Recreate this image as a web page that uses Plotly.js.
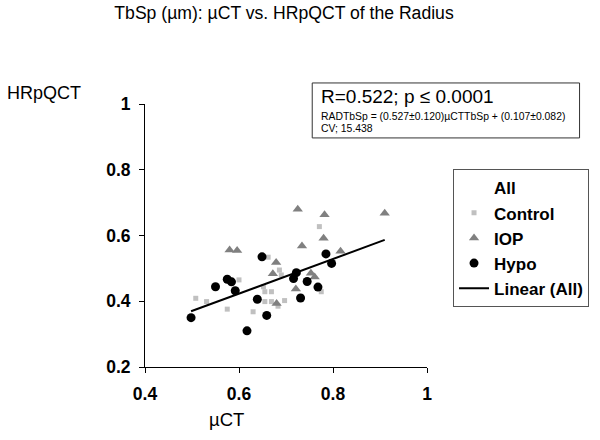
<!DOCTYPE html>
<html>
<head>
<meta charset="utf-8">
<script src="https://cdn.plot.ly/plotly-3.0.1.min.js"></script>
<style>
  body { margin: 0; background: #fff; }
  #chart { width: 600px; height: 440px; }
</style>
</head>
<body>
<div id="chart"></div>
<script>
// uCT (x) vs HRpQCT (y) trabecular separation
var controlX = [0.508, 0.531, 0.575, 0.600, 0.630, 0.662, 0.686, 0.690, 0.652, 0.655, 0.669, 0.655, 0.669, 0.697, 0.683, 0.771, 0.775];
var controlY = [0.409, 0.399, 0.376, 0.465, 0.368, 0.534, 0.495, 0.480, 0.444, 0.429, 0.429, 0.399, 0.399, 0.402, 0.385, 0.627, 0.429];

var iopX = [0.580, 0.596, 0.679, 0.672, 0.725, 0.734, 0.782, 0.780, 0.753, 0.761, 0.721, 0.680, 0.816, 0.910];
var iopY = [0.556, 0.554, 0.518, 0.484, 0.680, 0.568, 0.663, 0.592, 0.485, 0.474, 0.437, 0.393, 0.552, 0.668];

var hypoX = [0.498, 0.550, 0.575, 0.584, 0.592, 0.617, 0.639, 0.649, 0.659, 0.716, 0.722, 0.731, 0.745, 0.768, 0.785, 0.797];
var hypoY = [0.350, 0.444, 0.467, 0.459, 0.432, 0.310, 0.406, 0.535, 0.357, 0.469, 0.487, 0.410, 0.460, 0.443, 0.544, 0.515];

// regression reported in the figure
var fitSlope = 0.527;
var fitIntercept = 0.107;

var allX = controlX.concat(iopX, hypoX);
var xMin = Math.min.apply(null, allX);
var xMax = Math.max.apply(null, allX);
var fitX = [xMin, xMax];
var fitY = fitX.map(function (x) { return fitSlope * x + fitIntercept; });

var FONT = "Liberation Sans, Arial, sans-serif";

var traceAll = {
  x: [null], y: [null],
  mode: "markers",
  marker: { color: "rgba(0,0,0,0)", size: 6 },
  name: "All", legendgroup: "a"
};
var traceControl = {
  x: controlX, y: controlY,
  mode: "markers",
  marker: { symbol: "square", color: "#c0c0c0", size: 5 },
  name: "Control", legendgroup: "b"
};
var traceIop = {
  x: iopX, y: iopY,
  mode: "markers",
  marker: { symbol: "triangle-up", color: "#808080", size: 9 },
  name: "IOP", legendgroup: "c"
};
var traceHypo = {
  x: hypoX, y: hypoY,
  mode: "markers",
  marker: { symbol: "circle", color: "#000", size: 9 },
  name: "Hypo", legendgroup: "d"
};
var traceFit = {
  x: fitX, y: fitY,
  mode: "lines",
  line: { color: "#000", width: 2 },
  name: "Linear (All)", legendgroup: "e"
};

var layout = {
  width: 600, height: 440,
  margin: { l: 145, r: 172, t: 104, b: 73 },
  paper_bgcolor: "#fff", plot_bgcolor: "#fff",
  font: { family: FONT, color: "#000" },
  title: {
    text: "TbSp (µm): µCT vs. HRpQCT of the Radius",
    font: { size: 17.6 },
    x: 0.493, xref: "paper", y: 0.97, yanchor: "middle"
  },
  showlegend: true,
  legend: {
    x: 1.569, xanchor: "right", y: 0.752, yanchor: "top",
    bordercolor: "#555", borderwidth: 1,
    font: { size: 17, family: FONT, weight: "bold" },
    traceorder: "grouped", tracegroupgap: 0
  },
  xaxis: {
    range: [0.4, 1], tickvals: [0.4, 0.6, 0.8, 1], ticktext: ["0.4", "0.6", "0.8", "1"],
    showgrid: false, zeroline: false,
    showline: true, linecolor: "#000", linewidth: 1,
    ticks: "outside", ticklen: 5, tickcolor: "#000", ticklabelstandoff: 6,
    tickfont: { size: 17.5, weight: "bold" }
  },
  yaxis: {
    range: [0.2, 1], tickvals: [0.2, 0.4, 0.6, 0.8, 1], ticktext: ["0.2", "0.4", "0.6", "0.8", "1"],
    showgrid: false, zeroline: false,
    showline: true, linecolor: "#000", linewidth: 1,
    ticks: "outside", ticklen: 5, tickcolor: "#000", ticklabelstandoff: 5,
    tickfont: { size: 17.5, weight: "bold" }
  },
  // inside ticks on top of the outside ones, so they cross the axis
  xaxis2: {
    overlaying: "x", anchor: "y", side: "bottom", range: [0.4, 1],
    tickvals: [0.4, 0.6, 0.8, 1], showticklabels: false,
    showgrid: false, zeroline: false, showline: false,
    ticks: "inside", ticklen: 5, tickcolor: "#000"
  },
  yaxis2: {
    overlaying: "y", anchor: "x", side: "left", range: [0.2, 1],
    tickvals: [0.2, 0.4, 0.6, 0.8, 1], showticklabels: false,
    showgrid: false, zeroline: false, showline: false,
    ticks: "inside", ticklen: 5, tickcolor: "#000"
  },
  shapes: [{
    type: "rect", xref: "paper", yref: "paper",
    x0: 0.593, x1: 1.541, y0: 0.871, y1: 1.08,
    line: { color: "#333", width: 1 }, fillcolor: "#fff", layer: "below"
  }],
  annotations: [
    { text: "HRpQCT", xref: "paper", yref: "paper", x: -0.219, y: 1.042,
      xanchor: "right", yanchor: "middle", showarrow: false, font: { size: 18 } },
    { text: "µCT", xref: "paper", yref: "paper", x: 0.29, y: -0.2,
      xanchor: "center", yanchor: "middle", showarrow: false, font: { size: 18.5 } },
    { text: "R=0.522; p ≤ 0.0001", xref: "paper", yref: "paper", x: 0.618, y: 1.027,
      xanchor: "left", yanchor: "middle", showarrow: false, font: { size: 19 } },
    { text: "RADTbSp = (0.527±0.120)µCTTbSp + (0.107±0.082)", xref: "paper", yref: "paper",
      x: 0.618, y: 0.954, xanchor: "left", yanchor: "middle", showarrow: false, font: { size: 10.4 } },
    { text: "CV; 15.438", xref: "paper", yref: "paper", x: 0.618, y: 0.905,
      xanchor: "left", yanchor: "middle", showarrow: false, font: { size: 10.4 } }
  ]
};

Plotly.newPlot("chart", [traceAll, traceControl, traceIop, traceHypo, traceFit], layout,
  { displayModeBar: false, staticPlot: true });
</script>
</body>
</html>
